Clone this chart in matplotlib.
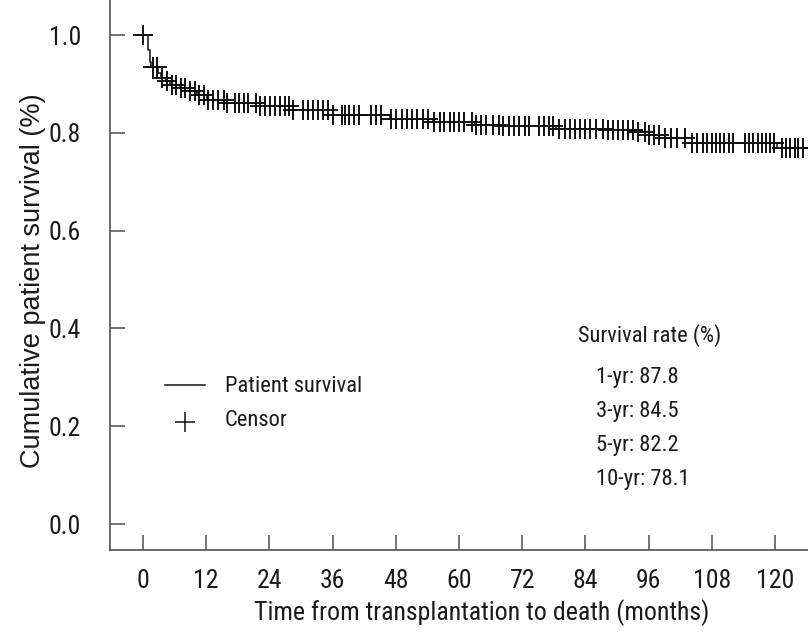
import numpy as np
import matplotlib
matplotlib.use("Agg")
import matplotlib.pyplot as plt
from matplotlib import font_manager
from matplotlib.lines import Line2D

# Kaplan-Meier step curve: (month of drop, survival after drop)
step_months = [0.0, 0.9, 1.3, 1.6, 2.9, 3.5, 4.3, 5.1, 7.0, 8.9, 10.2, 12.1, 15.9,
               22.2, 28.5, 36.1, 46.9, 55.0, 63.0, 68.0, 78.5, 87.5, 93.3, 96.0,
               99.2, 103.0, 120.3]
step_surv = [1.0, 0.969, 0.945, 0.934, 0.922, 0.912, 0.905, 0.898, 0.892, 0.885,
             0.878, 0.867, 0.860, 0.855, 0.847, 0.836, 0.829, 0.822, 0.817, 0.814,
             0.808, 0.805, 0.801, 0.795, 0.789, 0.780, 0.768]
end_month = 125.3

# censored observations (months)
censor_months = [0.05, 1.85, 2.7, 3.55, 4.5, 5.45, 6.3, 7.15, 7.95, 8.9, 9.9, 10.7,
                 11.6, 12.4, 13.3, 14.3, 15.3, 15.9, 17.5, 18.3, 19.2, 20.0, 21.5,
                 22.2, 23.2, 24.1, 25.1, 26.0, 27.0, 27.8, 28.5, 30.4, 31.4, 32.3,
                 33.3, 34.2, 35.2, 36.1, 37.7, 38.4, 39.2, 40.1, 41.0, 43.2, 44.2,
                 45.1, 47.0, 48.0, 49.1, 50.1, 51.0, 52.1, 53.1, 54.2, 55.3, 56.3,
                 57.2, 58.2, 59.0, 60.0, 61.0, 62.4, 63.2, 64.1, 65.1, 66.5, 67.5,
                 68.4, 69.4, 70.4, 71.4, 72.5, 73.3, 75.2, 76.1, 77.0, 77.9, 79.0,
                 80.1, 81.1, 82.0, 83.0, 83.9, 84.9, 86.0, 87.4, 88.3, 89.3, 90.2,
                 91.2, 92.1, 93.1, 94.0, 95.3, 96.1, 97.1, 98.0, 99.2, 100.2, 101.3,
                 102.9, 104.2, 105.2, 106.4, 107.1, 108.0, 108.8, 109.5, 110.3,
                 111.3, 112.1, 114.3, 115.1, 115.9, 116.7, 117.5, 118.3, 119.0,
                 119.8, 121.3, 122.1, 122.8, 123.7, 124.4, 125.3]

x_ticks = [0, 12, 24, 36, 48, 60, 72, 84, 96, 108, 120]
y_ticks = [0.0, 0.2, 0.4, 0.6, 0.8, 1.0]

rate_title = "Survival rate (%)"
rate_lines = ["1-yr: 87.8", "3-yr: 84.5", "5-yr: 82.2", "10-yr: 78.1"]

# the original uses a condensed grotesque; use one if it is installed
installed = {f.name for f in font_manager.fontManager.ttflist}
NARROW = None
for cand in ["Liberation Sans Narrow", "Roboto Condensed", "Arial Narrow"]:
    if cand in installed:
        NARROW = [cand, "DejaVu Sans"]
        break
if NARROW:
    FS_TICK, FS_TXT, FS_XLAB = 18.5, 16.2, 18.6
else:
    NARROW = ["Liberation Sans", "DejaVu Sans"]
    FS_TICK, FS_TXT, FS_XLAB = 15, 14.3, 16.7
REGULAR = ["Liberation Sans", "DejaVu Sans"]
TXT = "#1a1a1a"
AX = "#505050"

W, H = 808, 637
fig = plt.figure(figsize=(W / 100, H / 100), dpi=100)


def fx(x):
    return x / W


def fy(y):
    return 1 - y / H


ax = fig.add_axes([fx(110), fy(550), fx(808) - fx(110), fy(0) - fy(550)])
ax.set_xlim(-6.27, 126.26)
ax.set_ylim(-0.053, 1.0716)

# survival curve
t = np.array(step_months + [end_month])
s = np.array(step_surv + [step_surv[-1]])
ax.step(t, s, where="post", color="#111111", lw=1.1)

# censor marks sit on the curve
idx = np.searchsorted(np.array(step_months), np.array(censor_months), side="right") - 1
cy = np.array(step_surv)[idx]
ax.plot(censor_months, cy, ls="none", marker="+", ms=14.5, mew=1.4, color="#111111")

for side in ("top", "right"):
    ax.spines[side].set_visible(False)
for side in ("left", "bottom"):
    ax.spines[side].set_color(AX)
    ax.spines[side].set_linewidth(1.2)

ax.set_xticks(x_ticks)
ax.set_yticks(y_ticks)
ax.set_yticklabels([f"{v:.1f}" for v in y_ticks])
ax.tick_params(axis="both", direction="in", length=11, width=1.1, color=AX,
               labelsize=FS_TICK, labelcolor=TXT)
ax.tick_params(axis="y", pad=21)
ax.tick_params(axis="x", pad=14)
for lab in ax.get_xticklabels() + ax.get_yticklabels():
    lab.set_family(NARROW)

ax.set_xlabel("Time from transplantation to death (months)", fontsize=FS_XLAB,
              family=NARROW, color=TXT, va="center")
ax.xaxis.set_label_coords(0.532, -0.114)
ax.set_ylabel("Cumulative patient survival (%)", fontsize=19.5, family=REGULAR,
              color=TXT, va="center")
ax.yaxis.set_label_coords(-0.11, 0.49)

# legend, drawn by hand
fig.add_artist(Line2D([fx(165), fx(205)], [fy(385), fy(385)], color="#111111", lw=1.1))
fig.add_artist(Line2D([fx(185)], [fy(422)], ls="none", marker="+", ms=15, mew=1.1,
                      color="#111111"))
fig.text(fx(225), fy(386), "Patient survival", fontsize=FS_TXT, family=NARROW,
         color=TXT, va="center", ha="left")
fig.text(fx(225), fy(421), "Censor", fontsize=FS_TXT, family=NARROW,
         color=TXT, va="center", ha="left")

# survival rate block
fig.text(fx(578), fy(336), rate_title, fontsize=FS_TXT, family=NARROW, color=TXT,
         va="center", ha="left")
for i, line in enumerate(rate_lines):
    fig.text(fx(596), fy(378 + 34 * i), line, fontsize=FS_TXT, family=NARROW,
             color=TXT, va="center", ha="left")

fig.savefig("out.png", dpi=100)
